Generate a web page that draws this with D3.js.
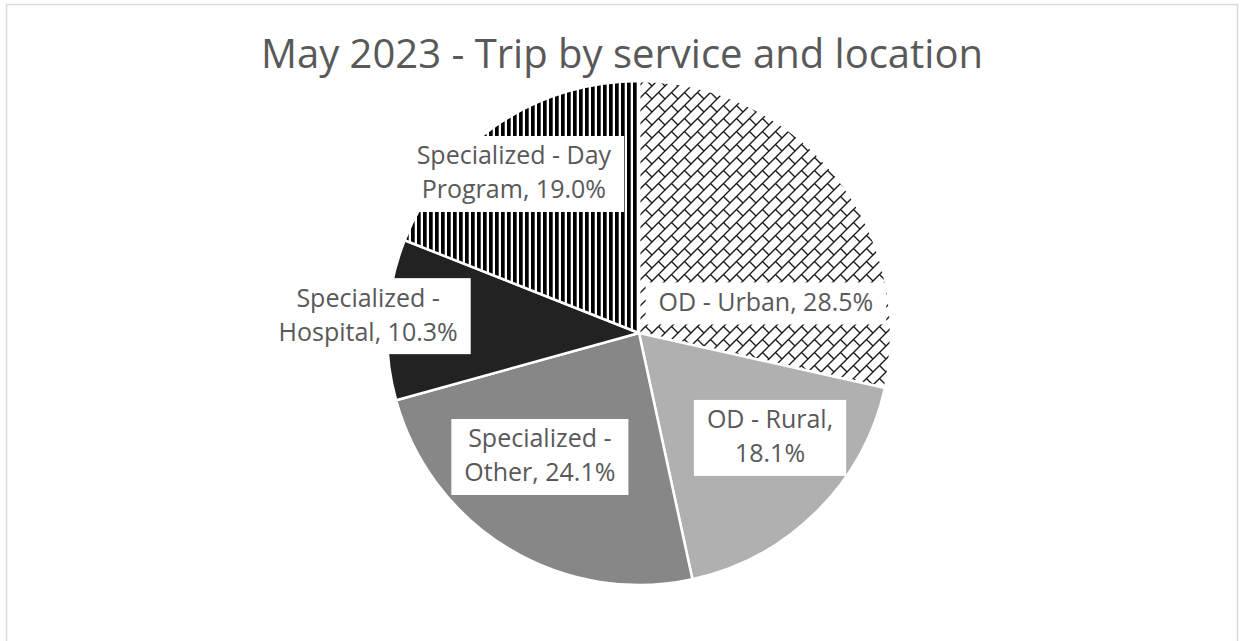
<!DOCTYPE html>
<html>
<head>
<meta charset="utf-8">
<script src="https://cdn.jsdelivr.net/npm/d3@7"></script>
<style>
  html, body { margin: 0; padding: 0; background: #fff; overflow: hidden; }
  text { font-family: "Open Sans", "Noto Sans", sans-serif; fill: #595959; }
</style>
</head>
<body>
<svg id="chart" width="1243" height="641"></svg>
<script>
// Trip shares by service and location, May 2023
const categories = ["OD - Urban", "OD - Rural", "Specialized - Other", "Specialized - Hospital", "Specialized - Day Program"];
const shares = [28.5, 18.1, 24.1, 10.3, 19.0];
// number of words on the first line of each wrapped label (0 = single line)
const wrapAfter = [0, 3, 2, 2, 3];
// slice fills: pattern ids or solid greys
const fills = ["url(#brick)", "#b0b0b0", "#878787", "#222222", "url(#vstripes)"];
// label placement: angular shift from slice mid-angle (deg) and distance as a fraction of the radius
const labelAngleShift = [25.6, -6.5, 7.5, 0.5, -4];
const labelRadius = [0.517, 0.666, 0.630, 1.077, 0.803];

const cx = 639, cy = 333, R = 252;

const svg = d3.select("#chart");

// chart frame
svg.append("rect")
  .attr("x", 6.5).attr("y", 4.5)
  .attr("width", 1231).attr("height", 660)
  .attr("fill", "#fff")
  .attr("stroke", "#d9d9d9").attr("stroke-width", 1.5);

// fill patterns
const defs = svg.append("defs");
const sp = 6;
const vs = defs.append("pattern")
  .attr("id", "vstripes").attr("patternUnits", "userSpaceOnUse")
  .attr("width", sp).attr("height", 10);
vs.append("rect").attr("width", sp).attr("height", 10).attr("fill", "#fff");
vs.append("rect").attr("width", 3.7).attr("height", 10).attr("fill", "#000");

const bw = 13;
const br = defs.append("pattern")
  .attr("id", "brick").attr("patternUnits", "userSpaceOnUse")
  .attr("width", bw).attr("height", bw);
br.append("rect").attr("width", bw).attr("height", bw).attr("fill", "#fff");
br.append("path")
  .attr("d",
    `M-1,${bw + 1}L${bw + 1},-1` +
    `M-2,2L2,-2` +
    `M${bw - 2},${bw + 2}L${bw + 2},${bw - 2}` +
    `M${bw / 2},${bw / 2}L${bw},${bw}`)
  .attr("stroke", "#1a1a1a").attr("stroke-width", 1.4).attr("fill", "none");

// title
svg.append("text")
  .attr("x", 622).attr("y", 68)
  .attr("text-anchor", "middle")
  .style("font-size", "40px")
  .text("May 2023 - Trip by service and location");

// pie
const pie = d3.pie().sort(null).value(d => d);
const arcs = pie(shares);
const arc = d3.arc().innerRadius(0).outerRadius(R);

const g = svg.append("g").attr("transform", `translate(${cx},${cy})`);
g.selectAll("path.slice")
  .data(arcs)
  .join("path")
  .attr("class", "slice")
  .attr("d", arc)
  .attr("fill", (d, i) => fills[i])
  .attr("stroke", "#fff")
  .attr("stroke-width", 2.5)
  .attr("stroke-linejoin", "round");

// data labels
const fontSize = 25, lineH = 34, padX = 13, padY = 4;
arcs.forEach((d, i) => {
  const words = `${categories[i]}, ${shares[i].toFixed(1)}%`.split(" ");
  const lines = wrapAfter[i] ? [words.slice(0, wrapAfter[i]).join(" "), words.slice(wrapAfter[i]).join(" ")] : [words.join(" ")];
  const mid = (d.startAngle + d.endAngle) / 2 + labelAngleShift[i] * Math.PI / 180;
  const dist = labelRadius[i] * R;
  const lx = Math.sin(mid) * dist, ly = -Math.cos(mid) * dist;

  const lg = g.append("g").attr("transform", `translate(${lx},${ly})`);
  const box = lg.append("rect").attr("fill", "#fff");
  const t = lg.append("text").attr("text-anchor", "middle").style("font-size", fontSize + "px");
  const top = -lines.length * lineH / 2;
  lines.forEach((s, k) => {
    t.append("tspan").attr("x", 0).attr("y", top + k * lineH + lineH * 0.72).text(s);
  });
  const tw = d3.max(t.selectAll("tspan").nodes(), n => n.getComputedTextLength());
  const bh = lines.length * lineH + 2 * padY;
  box.attr("x", -tw / 2 - padX).attr("y", -bh / 2)
     .attr("width", tw + 2 * padX).attr("height", bh);
});
</script>
</body>
</html>
